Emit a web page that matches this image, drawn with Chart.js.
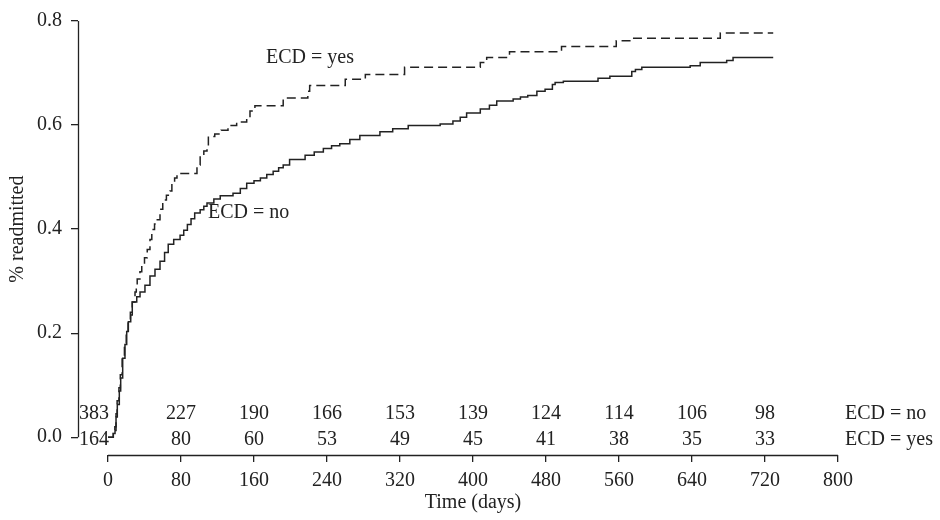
<!DOCTYPE html>
<html><head><meta charset="utf-8">
<script src="https://cdn.jsdelivr.net/npm/chart.js@4"></script>
<style>html,body{margin:0;padding:0;background:#fff}</style>
</head><body>
<canvas id="c" width="940" height="520"></canvas>
<script>
// ---- data ----
const timesNo = [0,5.8,7.7,8.8,10.2,12.4,13.9,16.1,18.6,20.5,22.3,24.9,26.6,31.5,35.1,40.5,46,51.5,57,62,66,72,79,83,87,91,95,101,105,108.5,116,123,137,145,152,160,167,174,181,187,192,199,216,226,236,245,254,265,276,298,312,329,364,378,386,393,408,418,426,444,452,460,470,479,487,490,499,537,550,574,578,585,638,649,678,685,729];
const cumNo   = [0,0.007,0.013,0.039,0.063,0.089,0.114,0.152,0.178,0.203,0.222,0.235,0.26,0.27,0.279,0.292,0.31,0.323,0.338,0.355,0.371,0.38,0.388,0.398,0.409,0.42,0.431,0.437,0.444,0.45,0.458,0.464,0.469,0.478,0.488,0.493,0.498,0.505,0.511,0.518,0.523,0.534,0.542,0.548,0.555,0.56,0.564,0.572,0.58,0.587,0.593,0.599,0.602,0.608,0.615,0.623,0.631,0.638,0.646,0.65,0.654,0.657,0.665,0.669,0.678,0.682,0.684,0.69,0.694,0.703,0.707,0.711,0.714,0.72,0.724,0.73,0.73];
const timesYes = [0,5.8,7.5,8.8,10,12,13.5,15.5,18,20,22,24.5,26.6,29.6,31,32,35,37,40,43,46,48,51,54,57,60,64,68,70,73,75.6,93,97.5,101,105,108.5,110,117,124,131.5,141,152,155.6,161,192,219,221,260,282,325,408,415,440,497,557,575,671,729];
const cumYes   = [0,0.007,0.02,0.045,0.07,0.095,0.12,0.155,0.18,0.205,0.225,0.24,0.26,0.279,0.29,0.304,0.318,0.331,0.345,0.361,0.38,0.399,0.41,0.418,0.438,0.456,0.465,0.473,0.488,0.498,0.507,0.507,0.523,0.54,0.55,0.559,0.578,0.583,0.59,0.599,0.606,0.612,0.627,0.637,0.652,0.665,0.676,0.688,0.697,0.711,0.72,0.73,0.741,0.751,0.762,0.767,0.777,0.777];
const riskTimes = [0,80,160,240,320,400,480,560,640,720];
const riskNo    = [383,227,190,166,153,139,124,114,106,98];
const riskYes   = [164,80,60,53,49,45,41,38,35,33];
const xTicks = [0,80,160,240,320,400,480,560,640,720,800];
const yTicks = [0,0.2,0.4,0.6,0.8];
const seriesNames = ['ECD = no','ECD = yes'];

const FONT = '"Liberation Serif", "Times New Roman", serif';
const FS = 20;
const INK = '#222';

const toPts = (t, v) => t.map((x, i) => ({x: x, y: v[i]}));

const annot = {
  id: 'annot',
  afterDraw(chart) {
    const ctx = chart.ctx, xs = chart.scales.x, ys = chart.scales.y, ca = chart.chartArea;
    ctx.save();
    ctx.strokeStyle = INK; ctx.lineWidth = 1.3;
    // axis lines (detached, R style)
    ctx.beginPath();
    ctx.moveTo(xs.getPixelForValue(0), ca.bottom + 0.5);
    ctx.lineTo(xs.getPixelForValue(800), ca.bottom + 0.5);
    ctx.moveTo(ca.left + 0.5, ys.getPixelForValue(0));
    ctx.lineTo(ca.left + 0.5, ys.getPixelForValue(0.8));
    ctx.stroke();
    ctx.fillStyle = INK;
    ctx.font = FS + 'px ' + FONT;
    ctx.textBaseline = 'middle';
    const y0 = ys.getPixelForValue(0);
    // number at risk
    riskTimes.forEach((t, i) => {
      const px = xs.getPixelForValue(t);
      ctx.textAlign = i === 0 ? 'right' : 'center';
      const ox = i === 0 ? 1 : 0;
      ctx.fillText(String(riskNo[i]), px + ox, y0 - 23);
      ctx.fillText(String(riskYes[i]), px + ox, y0 + 3);
    });
    ctx.textAlign = 'left';
    ctx.fillText(seriesNames[0], 845, y0 - 23);
    ctx.fillText(seriesNames[1], 845, y0 + 3);
    // curve labels
    ctx.fillText(seriesNames[1], 266, 58);
    ctx.fillText(seriesNames[0], 208, 213);
    // axis titles
    ctx.textAlign = 'center';
    ctx.fillText('Time (days)', xs.getPixelForValue(400), 503);
    ctx.translate(18, (ys.getPixelForValue(0) + ys.getPixelForValue(0.8)) / 2);
    ctx.rotate(-Math.PI / 2);
    ctx.fillText('% readmitted', 0, 0);
    ctx.restore();
  }
};

new Chart(document.getElementById('c'), {
  type: 'line',
  data: {
    datasets: [
      { label: seriesNames[0], data: toPts(timesNo, cumNo), stepped: 'before', borderColor: INK, borderWidth: 1.5, pointRadius: 0, fill: false },
      { label: seriesNames[1], data: toPts(timesYes, cumYes), stepped: 'before', borderColor: INK, borderWidth: 1.5, borderDash: [9, 5], pointRadius: 0, fill: false }
    ]
  },
  options: {
    responsive: false,
    animation: false,
    events: [],
    layout: { padding: { left: 0, top: 16, right: 102, bottom: 0 } },
    plugins: { legend: { display: false }, tooltip: { enabled: false } },
    scales: {
      x: {
        type: 'linear', min: -30 / 0.9125, max: 800,
        afterBuildTicks: s => { s.ticks = xTicks.map(v => ({ value: v })); },
        afterFit: s => { s.height = 65; },
        ticks: { color: INK, font: { family: FONT, size: FS }, padding: 7, maxRotation: 0, autoSkip: false, callback: v => String(v) },
        grid: { display: true, drawOnChartArea: false, drawTicks: true, tickLength: 7, color: INK, lineWidth: 1.3 },
        border: { display: false }
      },
      y: {
        type: 'linear', min: -18 / 526.25, max: 0.8,
        afterBuildTicks: s => { s.ticks = yTicks.map(v => ({ value: v })); },
        afterFit: s => { s.width = 78; },
        ticks: { color: INK, font: { family: FONT, size: FS }, padding: 9, autoSkip: false, callback: v => Number(v).toFixed(1) },
        grid: { display: true, drawOnChartArea: false, drawTicks: true, tickLength: 7, color: INK, lineWidth: 1.3 },
        border: { display: false }
      }
    }
  },
  plugins: [annot]
});
</script>
</body></html>
